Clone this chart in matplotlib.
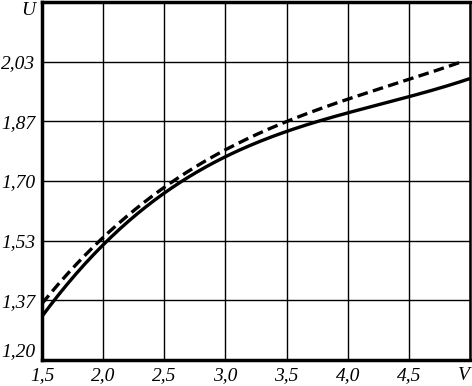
import numpy as np
import matplotlib.pyplot as plt

# data
V = [1.5, 2.0, 2.5, 3.0, 3.5, 4.0, 4.5, 5.0]
U_solid = [1.320, 1.525, 1.668, 1.763, 1.838, 1.892, 1.937, 1.985]
V_dash = [1.5, 2.0, 2.5, 3.0, 3.5, 4.0, 4.5, 4.95]
U_dash = [1.358, 1.540, 1.686, 1.786, 1.864, 1.930, 1.984, 2.035]

xticks = [1.5, 2.0, 2.5, 3.0, 3.5, 4.0, 4.5, 5.0]
xlabels = ["1,5", "2,0", "2,5", "3,0", "3,5", "4,0", "4,5", "V"]
yticks = [1.2 + k / 6 for k in range(7)]
ylabels = ["1,20", "1,37", "1,53", "1,70", "1,87", "2,03", "U"]


def smooth(x, y, n=200):
    # cubic fit through read points, just to draw a smooth curve
    c = np.polyfit(x, y, 3)
    xs = np.linspace(x[0], x[-1], n)
    return xs, np.polyval(c, xs)


fig = plt.figure(figsize=(4.72, 3.86), dpi=100)
ax = fig.add_axes([42 / 472, 26 / 386, 428 / 472, 358 / 386])

xs, ys = smooth(V, U_solid)
ax.plot(xs, ys, color="black", lw=2.4, solid_capstyle="butt")
xs, ys = smooth(V_dash, U_dash)
ax.plot(xs, ys, color="black", lw=2.4, ls=(0, (3.2, 1.6)))

ax.set_xlim(1.5, 5.0)
ax.set_ylim(1.2, 2.2)
ax.set_xticks(xticks)
ax.set_xticklabels(xlabels)
ax.set_yticks(yticks)
ax.set_yticklabels(ylabels)
ax.grid(True, color="black", lw=1.0)
ax.set_axisbelow(True)

for lab in ax.get_xticklabels() + ax.get_yticklabels():
    lab.set_fontfamily("Liberation Serif")
    lab.set_fontstyle("italic")
    lab.set_fontsize(14)

# the axis names sit in place of the last tick labels
ax.get_yticklabels()[-1].set_verticalalignment("top")
ax.get_yticklabels()[0].set_verticalalignment("bottom")
ax.get_xticklabels()[-1].set_horizontalalignment("right")

ax.tick_params(length=0)
ax.tick_params(axis="y", pad=5)
ax.tick_params(axis="x", pad=5)

for s in ax.spines.values():
    s.set_linewidth(2.5)
ax.spines["right"].set_linewidth(1.8)

fig.savefig("out.png", dpi=100)
